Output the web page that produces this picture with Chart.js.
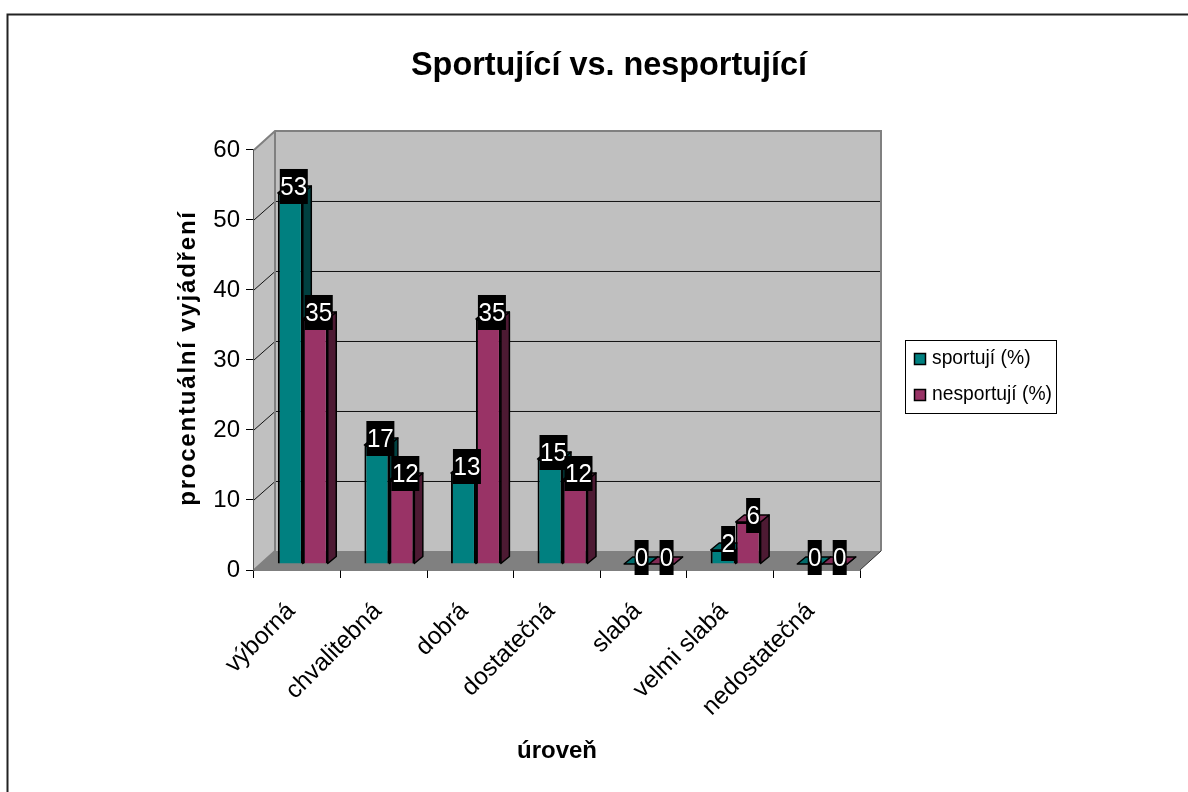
<!DOCTYPE html>
<html lang="cs">
<head>
<meta charset="utf-8">
<title>Sportující vs. nesportující</title>
<script src="https://cdn.jsdelivr.net/npm/chart.js@4/dist/chart.umd.min.js"></script>
<style>
  html, body { margin: 0; padding: 0; background: #fff; }
  canvas { display: block; }
</style>
</head>
<body>
<canvas id="sportChart" width="1188" height="792"></canvas>
<script>
// data
var categories = ["výborná", "chvalitebná", "dobrá", "dostatečná", "slabá", "velmi slabá", "nedostatečná"];
var sportuji = [53, 17, 13, 15, 0, 2, 0];
var nesportuji = [35, 12, 35, 12, 0, 6, 0];
var seriesNames = ["sportují (%)", "nesportují (%)"];
var yTicks = [0, 10, 20, 30, 40, 50, 60];

// colours per series: front, top, side
var faceColors = [
  { front: '#008080', top: '#006b6b', side: '#004040' },
  { front: '#993366', top: '#802b55', side: '#4d1a33' }
];

var FONT = '"Liberation Sans", Arial, sans-serif';
var WALL = { dx: 21, dy: -19 };   // depth of the box
var BAR_SHIFT = { dx: 5.5, dy: -6 };   // bars stand inside the floor
var BAR_DEPTH = { dx: 8.5, dy: -7 };

function poly(ctx, pts, fill, stroke, lw) {
  ctx.beginPath();
  ctx.moveTo(pts[0][0], pts[0][1]);
  for (var i = 1; i < pts.length; i++) ctx.lineTo(pts[i][0], pts[i][1]);
  ctx.closePath();
  if (fill) { ctx.fillStyle = fill; ctx.fill(); }
  if (stroke) { ctx.strokeStyle = stroke; ctx.lineWidth = lw; ctx.lineJoin = 'round'; ctx.stroke(); }
}

// walls, floor and gridlines behind the bars + depth faces of the bars
var box3d = {
  id: 'box3d',
  afterLayout: function (chart) {
    // title is centred on the whole page area, not on the plot
    chart.titleBlock.left = 0;
    chart.titleBlock.right = 1218;
  },
  beforeDatasetsDraw: function (chart) {
    var ctx = chart.ctx, a = chart.chartArea, y = chart.scales.y;
    var l = a.left, r = a.right, t = a.top, b = a.bottom;
    var dx = WALL.dx, dy = WALL.dy;
    ctx.save();
    poly(ctx, [[l + dx, t + dy], [r + dx, t + dy], [r + dx, b + dy], [l + dx, b + dy]], '#c0c0c0');
    poly(ctx, [[l, t], [l + dx, t + dy], [l + dx, b + dy], [l, b]], '#c0c0c0');
    poly(ctx, [[l, b], [l + dx, b + dy], [r + dx, b + dy], [r, b]], '#808080');

    // gridlines run along the side wall and across the back wall
    ctx.strokeStyle = '#111';
    ctx.lineWidth = 1;
    yTicks.forEach(function (v) {
      if (v === 0 || v === 60) return;
      var py = y.getPixelForValue(v);
      ctx.beginPath();
      ctx.moveTo(l, py);
      ctx.lineTo(l + dx, py + dy + 0.5);
      ctx.lineTo(r + dx, py + dy + 0.5);
      ctx.stroke();
    });

    // wall edges
    ctx.strokeStyle = '#808080';
    ctx.lineWidth = 2;
    ctx.beginPath();
    ctx.moveTo(l, t);
    ctx.lineTo(l + dx, t + dy);
    ctx.lineTo(r + dx, t + dy);
    ctx.lineTo(r + dx, b + dy);
    ctx.moveTo(l + dx, t + dy);
    ctx.lineTo(l + dx, b + dy);
    ctx.moveTo(l, b);
    ctx.lineTo(l + dx, b + dy);
    ctx.stroke();
    ctx.strokeStyle = '#333';
    ctx.lineWidth = 1;
    ctx.beginPath();
    ctx.moveTo(r, b);
    ctx.lineTo(r + dx, b + dy);
    ctx.stroke();

    // side and top of every bar, before any front face
    [0, 1].forEach(function (d) {
      var c = faceColors[d];
      chart.getDatasetMeta(d).data.forEach(function (el) {
        var x0 = el.x - el.width / 2 + BAR_SHIFT.dx;
        var x1 = el.x + el.width / 2 + BAR_SHIFT.dx;
        var top = el.y + BAR_SHIFT.dy;
        var base = el.base + BAR_SHIFT.dy;
        var ex = BAR_DEPTH.dx, ey = BAR_DEPTH.dy;
        poly(ctx, [[x1, top], [x1 + ex, top + ey], [x1 + ex, base + ey], [x1, base]], c.side, '#000', 1.5);
        poly(ctx, [[x0, top], [x0 + ex, top + ey], [x1 + ex, top + ey], [x1, top]], c.top, '#000', 1.5);
      });
    });
    ctx.restore();
  },
  beforeDatasetDraw: function (chart) {
    chart.ctx.save();
    chart.ctx.translate(BAR_SHIFT.dx, BAR_SHIFT.dy);
  },
  afterDatasetDraw: function (chart) {
    chart.ctx.restore();
  },
  afterDatasetsDraw: function (chart) {
    // value labels: white on a black box
    var ctx = chart.ctx;
    ctx.save();
    ctx.textAlign = 'center';
    ctx.textBaseline = 'middle';
    chart.data.datasets.forEach(function (ds, d) {
      chart.getDatasetMeta(d).data.forEach(function (el, i) {
        var txt = String(ds.data[i]);
        var cx = el.x + BAR_SHIFT.dx + (txt.length > 1 ? 3.5 : 5);
        var cy = el.y + BAR_SHIFT.dy - 6.5;
        var w = txt.length * 14;
        ctx.fillStyle = '#000';
        ctx.fillRect(cx - w / 2, cy - 17.5, w, 35);
        // digits run a little narrow and tall in this label style
        ctx.save();
        ctx.translate(cx, cy + 1);
        ctx.scale(0.93, 1);
        ctx.font = '26px ' + FONT;
        ctx.fillStyle = '#fff';
        ctx.fillText(txt, 0, 0);
        ctx.restore();
      });
    });
    ctx.restore();
  },
  afterDraw: function (chart) {
    var ctx = chart.ctx;
    ctx.save();

    // outer frame, open on the right and at the bottom
    ctx.strokeStyle = '#222';
    ctx.lineWidth = 2;
    ctx.beginPath();
    ctx.moveTo(1188, 14.5);
    ctx.lineTo(7.5, 14.5);
    ctx.lineTo(7.5, 792);
    ctx.stroke();

    // y axis title with wider letter spacing
    ctx.save();
    ctx.translate(188, 358);
    ctx.rotate(-Math.PI / 2);
    ctx.font = 'bold 24px ' + FONT;
    ctx.letterSpacing = '1.8px';
    ctx.fillStyle = '#000';
    ctx.textAlign = 'center';
    ctx.textBaseline = 'middle';
    ctx.fillText('procentuální vyjádření', 0, 0);
    ctx.restore();

    // legend
    ctx.fillStyle = '#fff';
    ctx.strokeStyle = '#000';
    ctx.lineWidth = 1;
    ctx.fillRect(905.5, 340.5, 151, 73);
    ctx.strokeRect(905.5, 340.5, 151, 73);
    ctx.font = '19.3px ' + FONT;
    ctx.textBaseline = 'middle';
    ctx.textAlign = 'left';
    seriesNames.forEach(function (name, i) {
      var ly = 359 + i * 36;
      ctx.fillStyle = faceColors[i].front;
      ctx.fillRect(914.5, ly - 5.5, 11, 11);
      ctx.strokeStyle = '#000';
      ctx.lineWidth = 1.5;
      ctx.strokeRect(914.5, ly - 5.5, 11, 11);
      ctx.fillStyle = '#000';
      ctx.fillText(name, 932, ly);
    });
    ctx.restore();
  }
};

new Chart(document.getElementById('sportChart').getContext('2d'), {
  type: 'bar',
  plugins: [box3d],
  data: {
    labels: categories,
    datasets: [
      { label: seriesNames[0], data: sportuji, backgroundColor: faceColors[0].front, borderColor: '#000', borderWidth: 2 },
      { label: seriesNames[1], data: nesportuji, backgroundColor: faceColors[1].front, borderColor: '#000', borderWidth: 2 }
    ]
  },
  options: {
    responsive: false,
    animation: false,
    events: [],
    layout: { padding: { left: 0, right: 328, top: 0, bottom: 0 } },
    datasets: { bar: { categoryPercentage: 0.577, barPercentage: 1 } },
    plugins: {
      legend: { display: false },
      tooltip: { enabled: false },
      title: {
        display: true,
        text: 'Sportující vs. nesportující',
        color: '#000',
        font: { family: FONT, size: 32.4, weight: 'bold', lineHeight: 1.2 },
        padding: { top: 47, bottom: 64.1 }
      }
    },
    scales: {
      x: {
        afterFit: function (s) { s.height = 222; },
        grid: { drawOnChartArea: false, drawTicks: true, tickLength: 8, color: '#000' },
        border: { color: '#000', width: 1.5 },
        ticks: {
          color: '#000',
          font: { family: FONT, size: 24.5 },
          minRotation: 45,
          maxRotation: 45,
          padding: 19,
          labelOffset: -6,
          autoSkip: false
        },
        title: {
          display: true,
          text: 'úroveň',
          color: '#000',
          font: { family: FONT, size: 24, weight: 'bold', lineHeight: 1.2 },
          padding: { top: 0, bottom: 26 }
        }
      },
      y: {
        min: 0,
        max: 60,
        afterFit: function (s) { s.width = 254; },
        afterBuildTicks: function (s) { s.ticks = yTicks.map(function (v) { return { value: v }; }); },
        grid: { drawOnChartArea: false, drawTicks: true, tickLength: 8, color: '#000' },
        border: { color: '#555', width: 2 },
        ticks: { color: '#000', font: { family: FONT, size: 24 }, padding: 6 }
      }
    }
  }
});
</script>
</body>
</html>
